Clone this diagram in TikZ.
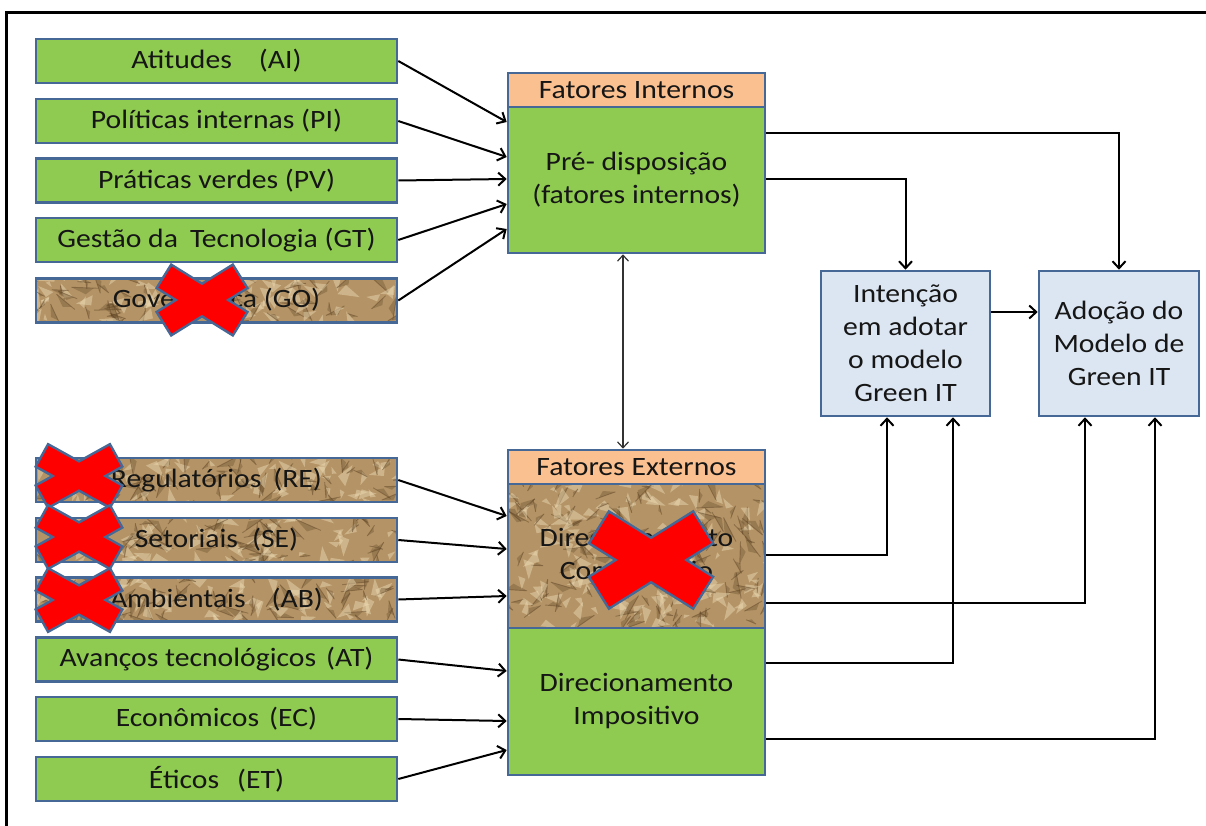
\documentclass[tikz,border=0pt]{standalone}
\usepackage{fontspec}
\setmainfont{Carlito}[FakeStretch=1.12]
\usetikzlibrary{arrows.meta}

\definecolor{boxgreen}{RGB}{143,203,80}
\definecolor{boxedge}{RGB}{70,104,150}
\definecolor{hdr}{RGB}{250,192,144}
\definecolor{pale}{RGB}{220,230,242}
\definecolor{paper}{RGB}{180,148,102}
\definecolor{paperdk}{RGB}{96,70,38}
\definecolor{paperlt}{RGB}{238,220,182}
\definecolor{xred}{RGB}{255,0,0}
\definecolor{ink}{RGB}{22,22,22}

% crumpled-paper fill: x1 y1 x2 y2 seed count
\newcommand\paperfill[6]{%
  \begin{scope}
    \clip (#1,#2) rectangle (#3,#4);
    \fill[paper] (#1,#2) rectangle (#3,#4);
    \pgfmathsetseed{#5}
    \foreach \k in {1,...,#6}{
      \pgfmathsetmacro\px{#1+rnd*(#3-#1)}
      \pgfmathsetmacro\py{#2+rnd*(#4-#2)}
      \pgfmathsetmacro\ang{rnd*360}
      \pgfmathsetmacro\len{7+rnd*16}
      \fill[paperlt, opacity=0.45] (\px,\py) -- ++(\ang:\len) -- ++(\ang+125:0.55*\len) -- cycle;
      \pgfmathsetmacro\qx{#1+rnd*(#3-#1)}
      \pgfmathsetmacro\qy{#2+rnd*(#4-#2)}
      \pgfmathsetmacro\bng{rnd*360}
      \fill[paperdk, opacity=0.32] (\qx,\qy) -- ++(\bng:\len) -- ++(\bng+140:0.45*\len) -- cycle;
      \draw[paperdk, opacity=0.45, line width=0.9pt] (\qx,\qy) -- ++(\bng:1.2*\len);
    }
  \end{scope}}

% red cross with blue rim: cx cy dx dy armwidth rimwidth
\newcommand\redcross[6]{%
  \draw[boxedge, line width=#6pt, shorten <=-2.5pt, shorten >=-2.5pt] (#1-#3,#2-#4) -- (#1+#3,#2+#4);
  \draw[boxedge, line width=#6pt, shorten <=-2.5pt, shorten >=-2.5pt] (#1-#3,#2+#4) -- (#1+#3,#2-#4);
  \draw[xred, line width=#5pt] (#1-#3,#2-#4) -- (#1+#3,#2+#4);
  \draw[xred, line width=#5pt] (#1-#3,#2+#4) -- (#1+#3,#2-#4);}

\tikzset{
  base/.style={draw=boxedge, line width=2.6pt, inner sep=0pt, align=center,
    text=ink, font=\fontsize{26.5}{33}\selectfont},
  lbox/.style={base, fill=boxgreen, minimum width=361pt, minimum height=44pt},
  pbox/.style={base, minimum width=361pt, minimum height=44pt},
  head/.style={base, fill=hdr, minimum width=257pt, minimum height=34pt},
  core/.style={base, fill=boxgreen, minimum width=257pt},
  gone/.style={base, minimum width=257pt},
  outc/.style={base, fill=pale, minimum height=145pt},
  link/.style={line width=2pt, -{Straight Barb[length=7pt,width=13pt]}},
  duplex/.style={line width=1.2pt, draw=black!80,
    {Straight Barb[length=6pt,width=11pt]}-{Straight Barb[length=6pt,width=11pt]}},
}

\begin{document}
\begin{tikzpicture}[x=1pt,y=-1pt]
\useasboundingbox (0,0) rectangle (1206,826);
\fill[white] (0,0) rectangle (1206,826);

% frame
\draw[line width=3pt, black] (1206,13) -- (6,13) -- (6,826);

% paper textures behind the struck-out boxes
\paperfill{36}{278}{397}{323}{11}{70}
\paperfill{36}{458}{397}{502}{12}{70}
\paperfill{36}{518}{397}{562}{13}{70}
\paperfill{36}{577}{397}{622}{14}{70}
\paperfill{508}{484}{765}{628}{15}{140}

% internal factors
\node[lbox] (ai) at (216.5,61)    {Atitudes\hspace{27pt}(AI)};
\node[lbox] (pi) at (216.5,121)   {Políticas internas (PI)};
\node[lbox] (pv) at (216.5,180.5) {Práticas verdes (PV)};
\node[lbox] (gt) at (216.5,240)   {Gestão da\hspace{12pt}Tecnologia (GT)};
\node[pbox] (go) at (216.5,300.5) {Governança (GO)};

% external factors
\node[pbox] (re) at (216.5,480)   {Regulatórios\hspace{12pt}(RE)};
\node[pbox] (se) at (216.5,540)   {Setoriais\hspace{14pt}(SE)};
\node[pbox] (ab) at (216.5,599.5) {Ambientais\hspace{26pt}(AB)};
\node[lbox] (at) at (216.5,659.5) {Avanços tecnológicos\hspace{10pt}(AT)};
\node[lbox] (ec) at (216.5,719)   {Econômicos\hspace{10pt}(EC)};
\node[lbox] (et) at (216.5,779)   {Éticos\hspace{18pt}(ET)};

% central blocks
\node[head] (hdrI) at (636.5,90) {Fatores Internos};
\node[core, minimum height=146pt] (pre) at (636.5,180) {Pré- disposição\\(fatores internos)};
\node[head] (hdrE) at (636.5,467) {Fatores Externos};
\node[gone, minimum height=144pt] (comp) at (636.5,556) {Direcionamento\\Compulsório};
\node[core, minimum height=147pt] (imp) at (636.5,701.5) {Direcionamento\\Impositivo};

% outcomes
\node[outc, minimum width=169pt] (int) at (905.5,343.5) {Intenção\\em adotar\\o modelo\\Green IT};
\node[outc, minimum width=160pt] (ado) at (1119,343.5) {Adoção do\\Modelo de\\Green IT};

% inputs to the internal block
\draw[link] (ai.east) -- (pre.west |- 0,122);
\draw[link] (pi.east) -- (pre.west |- 0,157);
\draw[link] (pv.east) -- (pre.west |- 0,179);
\draw[link] (gt.east) -- (pre.west |- 0,204);
\draw[link] (go.east) -- (pre.west |- 0,229);

% inputs to the external blocks
\draw[link] (re.east) -- (comp.west |- 0,516);
\draw[link] (se.east) -- (comp.west |- 0,549);
\draw[link] (ab.east) -- (comp.west |- 0,596);
\draw[link] (at.east) -- (imp.west |- 0,671);
\draw[link] (ec.east) -- (imp.west |- 0,721);
\draw[link] (et.east) -- (imp.west |- 0,750);

% link between internal and external factors
\draw[duplex] (pre.south -| 623,0) -- (hdrE.north -| 623,0);

% outputs
\draw[link] (pre.east |- 0,133) -| (ado.north);
\draw[link] (pre.east |- 0,179) -| (int.north);
\draw[link] (int.east |- 0,312) -- (ado.west |- 0,312);
\draw[link] (comp.east |- 0,555) -| (int.south -| 887,0);
\draw[link] (comp.east |- 0,603) -| (ado.south -| 1085,0);
\draw[link] (imp.east |- 0,663) -| (int.south -| 953,0);
\draw[link] (imp.east |- 0,739) -| (ado.south -| 1155,0);

% strike-outs
\redcross{202}{300}{37}{23}{25}{30}
\redcross{79}{476}{36}{20}{23}{28}
\redcross{79}{537}{36}{20}{23}{28}
\redcross{79}{600}{36}{20}{23}{28}
\redcross{651}{560}{51}{32}{35}{40}
\end{tikzpicture}
\end{document}
